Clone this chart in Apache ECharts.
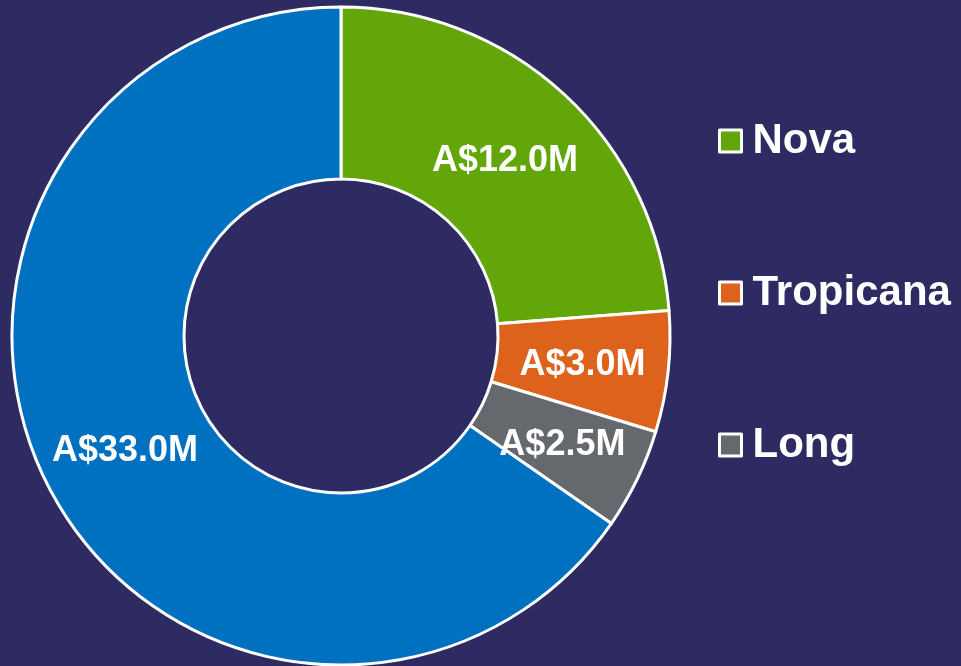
<!DOCTYPE html>
<html>
<head>
<meta charset="utf-8">
<script src="https://cdn.jsdelivr.net/npm/echarts@6/dist/echarts.min.js"></script>
<style>
html,body{margin:0;padding:0;background:#2E2B63;}
#c{width:961px;height:666px;}
</style>
</head>
<body>
<div id="c"></div>
<script>
const categories = ['Nova', 'Tropicana', 'Long', 'Other'];
const values = [12.0, 3.0, 2.5, 33.0];
const colors = ['#62A60A', '#DD631D', '#65686C', '#0070C0'];
const legendItems = ['Nova', 'Tropicana', 'Long'];
const labelNudge = [[-3, 6], [-3, 2], [0, 2], [2, 1]];

const chart = echarts.init(document.getElementById('c'), null, {renderer: 'canvas'});
chart.setOption({
  backgroundColor: '#2E2B63',
  animation: false,
  legend: {
    data: legendItems,
    orient: 'vertical',
    left: 718,
    top: 120,
    padding: 0,
    icon: 'rect',
    itemWidth: 22,
    itemHeight: 22,
    itemGap: 110,
    itemStyle: {borderColor: '#ffffff', borderWidth: 3},
    textStyle: {
      color: '#ffffff',
      fontSize: 42,
      fontWeight: 'bold',
      fontFamily: 'Liberation Sans, Arial, sans-serif',
      padding: [0, 0, 0, 6]
    },
    selectedMode: false
  },
  series: [{
    type: 'pie',
    center: [341, 336],
    radius: [157, 329],
    startAngle: 90,
    clockwise: true,
    avoidLabelOverlap: false,
    itemStyle: {borderColor: '#ffffff', borderWidth: 3},
    label: {
      show: true,
      position: 'inside',
      formatter: p => 'A$' + p.value.toFixed(1) + 'M',
      color: '#ffffff',
      fontSize: 36,
      fontWeight: 'bold',
      fontFamily: 'Liberation Sans, Arial, sans-serif',
      textBorderWidth: 0
    },
    labelLine: {show: false},
    emphasis: {disabled: true},
    data: categories.map((n, i) => ({
      name: n,
      value: values[i],
      itemStyle: {color: colors[i]},
      label: {offset: labelNudge[i]}
    }))
  }]
});
</script>
</body>
</html>
